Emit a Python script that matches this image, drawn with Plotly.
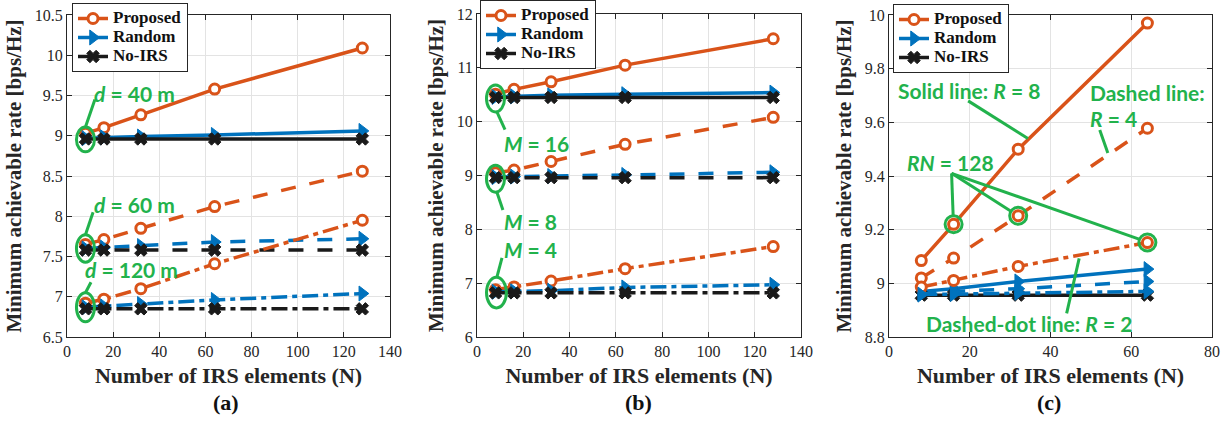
import plotly.graph_objects as go

# ---------------- data ----------------
N_ab = [8, 16, 32, 64, 128]
N_c = [8, 16, 32, 64]

# (a) distance d
a_prop_40 = [9.03, 9.10, 9.26, 9.58, 10.09]
a_rand_40 = [8.97, 8.98, 8.99, 9.01, 9.06]
a_noirs_40 = [8.96, 8.96, 8.96, 8.96, 8.96]
a_prop_60 = [7.65, 7.71, 7.85, 8.12, 8.56]
a_rand_60 = [7.60, 7.61, 7.63, 7.68, 7.72]
a_noirs_60 = [7.58, 7.58, 7.58, 7.58, 7.58]
a_prop_120 = [6.92, 6.97, 7.10, 7.41, 7.95]
a_rand_120 = [6.87, 6.88, 6.91, 6.96, 7.04]
a_noirs_120 = [6.85, 6.85, 6.85, 6.85, 6.85]

# (b) number of BS antennas M
b_prop_16 = [10.51, 10.60, 10.74, 11.05, 11.54]
b_rand_16 = [10.46, 10.47, 10.49, 10.51, 10.54]
b_noirs_16 = [10.45, 10.45, 10.45, 10.45, 10.45]
b_prop_8 = [9.05, 9.10, 9.26, 9.58, 10.08]
b_rand_8 = [8.97, 8.98, 8.99, 9.01, 9.06]
b_noirs_8 = [8.96, 8.96, 8.96, 8.96, 8.96]
b_prop_4 = [6.88, 6.93, 7.04, 7.27, 7.68]
b_rand_4 = [6.84, 6.85, 6.86, 6.92, 6.97]
b_noirs_4 = [6.82, 6.82, 6.82, 6.82, 6.82]

# (c) number of IRSs R
c_prop_8 = [9.085, 9.22, 9.50, 9.97]
c_rand_8 = [8.97, 8.98, 9.007, 9.053]
c_prop_4 = [9.02, 9.094, 9.252, 9.578]
c_rand_4 = [8.96, 8.97, 8.98, 9.007]
c_prop_2 = [8.986, 9.011, 9.063, 9.152]
c_rand_2 = [8.958, 8.96, 8.965, 8.97]
c_noirs = [8.956, 8.956, 8.956, 8.956]

series_names = ["Proposed", "Random", "No-IRS"]

xt_ab = [0, 20, 40, 60, 80, 100, 120, 140]
xt_c = [0, 20, 40, 60, 80]
yt_a = [6.5, 7, 7.5, 8, 8.5, 9, 9.5, 10, 10.5]
yt_a_txt = ["6.5", "7", "7.5", "8", "8.5", "9", "9.5", "10", "10.5"]
yt_b = [6, 7, 8, 9, 10, 11, 12]
yt_b_txt = ["6", "7", "8", "9", "10", "11", "12"]
yt_c = [8.8, 9.0, 9.2, 9.4, 9.6, 9.8, 10.0]
yt_c_txt = ["8.8", "9", "9.2", "9.4", "9.6", "9.8", "10"]

# ---------------- style ----------------
ORANGE = "#D95319"
BLUE = "#0072BD"
BLACK = "#1a1a1a"
GREEN = "#22B24C"
SERIF = "Liberation Serif, Times New Roman, serif"
SANS = "Lato, Open Sans, sans-serif"
LW = 3.5
DASH = {"solid": "solid", "dash": "15px,14px", "dashdot": "16px,5px,5px,5px"}

fig = go.Figure()


def add_group(xs, prop, rand, noirs, style, axis, legend):
    xa = "x" if axis == 1 else f"x{axis}"
    ya = "y" if axis == 1 else f"y{axis}"
    show = style == "solid"
    specs = [
        (prop, ORANGE, dict(symbol="circle", size=10, color="white",
                             line=dict(color=ORANGE, width=3)), series_names[0]),
        (rand, BLUE, dict(symbol="triangle-right", size=13, color=BLUE,
                           line=dict(color=BLUE, width=1)), series_names[1]),
        (noirs, BLACK, dict(symbol="x", size=11, color=BLACK,
                             line=dict(color=BLACK, width=1)), series_names[2]),
    ]
    for ys, col, mk, name in specs:
        if ys is None:
            continue
        fig.add_trace(go.Scatter(
            x=xs, y=ys, mode="lines+markers",
            name=f"<span style='font-size:17px'><b>{name}</b></span>",
            line=dict(color=col, width=LW, dash=DASH[style]),
            marker=mk, xaxis=xa, yaxis=ya, legend=legend,
            showlegend=show, cliponaxis=False))


add_group(N_ab, a_prop_40, a_rand_40, a_noirs_40, "solid", 1, "legend")
add_group(N_ab, a_prop_60, a_rand_60, a_noirs_60, "dash", 1, "legend")
add_group(N_ab, a_prop_120, a_rand_120, a_noirs_120, "dashdot", 1, "legend")

add_group(N_ab, b_prop_16, b_rand_16, b_noirs_16, "solid", 2, "legend2")
add_group(N_ab, b_prop_8, b_rand_8, b_noirs_8, "dash", 2, "legend2")
add_group(N_ab, b_prop_4, b_rand_4, b_noirs_4, "dashdot", 2, "legend2")

add_group(N_c, c_prop_8, c_rand_8, c_noirs, "solid", 3, "legend3")
add_group(N_c, c_prop_4, c_rand_4, None, "dash", 3, "legend3")
add_group(N_c, c_prop_2, c_rand_2, None, "dashdot", 3, "legend3")

# green highlight circles in (c), located on the data points
fig.add_trace(go.Scatter(
    x=[N_c[1], N_c[2], N_c[3]], y=[c_prop_8[1], c_prop_4[2], c_prop_2[3]],
    mode="markers", marker=dict(symbol="circle-open", size=17,
                                line=dict(color=GREEN, width=3), color=GREEN),
    xaxis="x3", yaxis="y3", showlegend=False, hoverinfo="skip"))

# ---------------- axes ----------------
def axis_style(**kw):
    d = dict(showline=True, linecolor="#262626", linewidth=1, mirror="ticks",
             ticks="inside", ticklen=5, tickcolor="#262626", automargin=False,
             showgrid=True, gridcolor="#e3e3e3", gridwidth=1, zeroline=False,
             tickfont=dict(family=SERIF, size=16, color="#262626"))
    d.update(kw)
    return d


xtitle = dict(text="<b>Number of IRS elements (N)</b>",
              font=dict(family=SERIF, size=22, color="#262626"), standoff=8)
ytitle = dict(text="<b>Minimum achievable rate [bps/Hz]</b>",
              font=dict(family=SERIF, size=21, color="#262626"), standoff=7)

W, H = 1232, 422
def dom_x(l, r):
    return [l / W, r / W]
def dom_y(t, b):
    return [1 - b / H, 1 - t / H]

fig.update_layout(
    width=W, height=H,
    margin=dict(l=0, r=0, t=0, b=0, pad=0, autoexpand=False),
    paper_bgcolor="white", plot_bgcolor="white", showlegend=True,
    xaxis=axis_style(domain=dom_x(67, 390), range=[0, 140], tickvals=xt_ab,
                     title=xtitle, anchor="y"),
    yaxis=axis_style(domain=dom_y(15, 337), range=[6.5, 10.5], tickvals=yt_a,
                     ticktext=yt_a_txt, title=ytitle, anchor="x"),
    xaxis2=axis_style(domain=dom_x(477, 801), range=[0, 140], tickvals=xt_ab,
                      title=xtitle, anchor="y2"),
    yaxis2=axis_style(domain=dom_y(14, 337), range=[6, 12], tickvals=yt_b,
                      ticktext=yt_b_txt, title=ytitle, anchor="x2"),
    xaxis3=axis_style(domain=dom_x(889, 1212), range=[0, 80], tickvals=xt_c,
                      title=xtitle, anchor="y3"),
    yaxis3=axis_style(domain=dom_y(15, 337), range=[8.8, 10.0], tickvals=yt_c,
                      ticktext=yt_c_txt, title=ytitle, anchor="x3"),
)

leg_common = dict(bgcolor="white", bordercolor="#262626", borderwidth=1,
                  font=dict(family=SERIF, size=11, color="#111"),
                  xanchor="left", yanchor="top", itemwidth=30,
                  tracegroupgap=0)
fig.update_layout(
    legend=dict(x=72 / W, y=1 - 3 / H, **leg_common),
    legend2=dict(x=480 / W, y=1 - 0 / H, **leg_common),
    legend3=dict(x=893 / W, y=1 - 4 / H, **leg_common),
)

# ---------------- annotations ----------------
ann = []
def gtext(text, x, y, xr, yr, xanchor="left", size=21):
    ann.append(dict(text=f"<b>{text}</b>", x=x, y=y, xref=xr, yref=yr,
                    xanchor=xanchor, yanchor="middle", showarrow=False,
                    font=dict(family=SANS, size=size, color=GREEN)))

gtext("<i>d</i> = 40 m", 10.8, 9.53, "x", "y")
gtext("<i>d</i> = 60 m", 10.8, 8.15, "x", "y")
gtext("<i>d</i> = 120 m", 7.0, 7.34, "x", "y")
gtext("<i>M</i> = 16", 10.8, 9.60, "x2", "y2")
gtext("<i>M</i> = 8", 10.8, 8.14, "x2", "y2")
gtext("<i>M</i> = 4", 10.8, 7.63, "x2", "y2")
gtext("Solid line: <i>R</i> = 8", 19.7, 9.72, "x3", "y3", "center")
gtext("Dashed line:", 49.3, 9.71, "x3", "y3")
gtext("<i>R</i> = 4", 49.3, 9.616, "x3", "y3")
gtext("<i>RN</i> = 128", 4.0, 9.452, "x3", "y3")
gtext("Dashed-dot line: <i>R</i> = 2", 34.7, 8.852, "x3", "y3", "center")

for lab, xc in [("(a)", 226), ("(b)", 638), ("(c)", 1049)]:
    ann.append(dict(text=f"<b>{lab}</b>", x=xc / W, y=1 - 402 / H,
                    xref="paper", yref="paper", showarrow=False,
                    xanchor="center", yanchor="middle",
                    font=dict(family=SERIF, size=22, color="#111")))

shapes = []
def gline(x0, y0, x1, y1, xr, yr):
    shapes.append(dict(type="line", x0=x0, y0=y0, x1=x1, y1=y1, xref=xr,
                       yref=yr, line=dict(color=GREEN, width=3)))

def gell(xc, y0, y1, xr, yr, half=3.9):
    shapes.append(dict(type="circle", x0=xc - half, x1=xc + half, y0=y0,
                       y1=y1, xref=xr, yref=yr,
                       line=dict(color=GREEN, width=3)))

gell(N_ab[0], 8.80, 9.11, "x", "y")
gell(N_ab[0], 7.43, 7.77, "x", "y")
gell(N_ab[0], 6.69, 7.05, "x", "y")
gline(8, 9.11, 12.1, 9.45, "x", "y")
gline(8, 7.77, 11.3, 8.05, "x", "y")
gline(8, 7.05, 10.4, 7.18, "x", "y")

gell(N_ab[0], 10.18, 10.68, "x2", "y2")
gell(N_ab[0], 8.69, 9.19, "x2", "y2")
gell(N_ab[0] + 0.4, 6.54, 7.11, "x2", "y2", half=4.3)
gline(8.6, 10.18, 12.1, 9.85, "x2", "y2")
gline(8.6, 8.69, 11.2, 8.36, "x2", "y2")
gline(10.8, 7.47, 8.6, 7.11, "x2", "y2")

gline(19.6, 9.68, 34.4, 9.54, "x3", "y3")
gline(52.2, 9.571, 54.2, 9.486, "x3", "y3")
gline(15.5, 9.41, 15.9, 9.248, "x3", "y3")
gline(15.5, 9.41, 30.4, 9.267, "x3", "y3")
gline(15.5, 9.41, 62.1, 9.164, "x3", "y3")
gline(44.0, 8.888, 47.1, 9.093, "x3", "y3")

fig.update_layout(annotations=ann, shapes=shapes)

fig.write_html("out.html", config={"displayModeBar": False},
               post_script="document.body.style.margin='0';"
                           "document.body.style.overflow='hidden';")
